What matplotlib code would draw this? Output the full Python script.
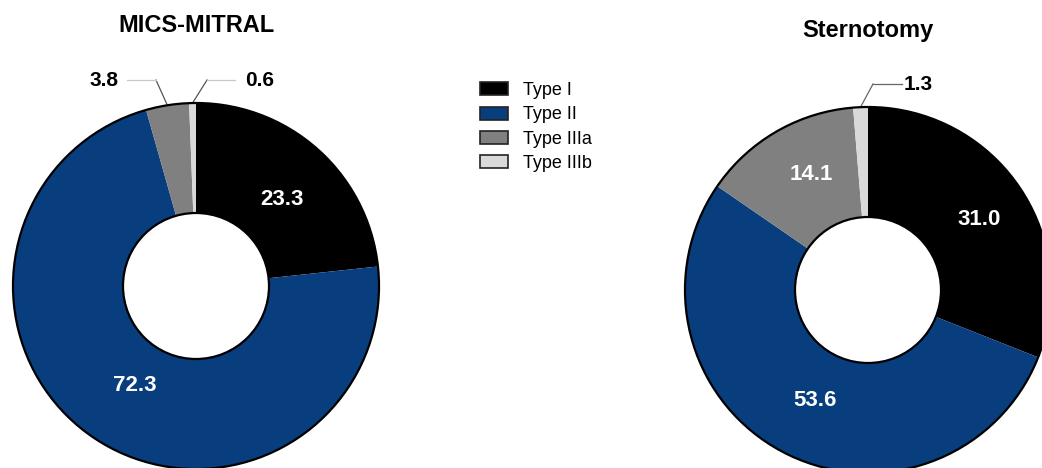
import numpy as np
import matplotlib
matplotlib.use("Agg")
import matplotlib.pyplot as plt
from matplotlib.patches import Circle

plt.rcParams["font.family"] = ["Liberation Sans", "DejaVu Sans"]

# Data
categories = ["Type I", "Type II", "Type IIIa", "Type IIIb"]
mics_values = [23.3, 72.3, 3.8, 0.6]
sternotomy_values = [31.0, 53.6, 14.1, 1.3]
group_titles = ["MICS-MITRAL", "Sternotomy"]

colors = ["#000000", "#083E7E", "#808080", "#D9D9D9"]

W, H = 1042, 468
fig = plt.figure(figsize=(W / 100, H / 100), dpi=100)
ax = fig.add_axes([0, 0, 1, 1])

R_OUT = 183
R_IN = 73
centers = [(196, H - 286), (868, H - 290)]
title_y = [H - 25, H - 30]

# inside labels: (fraction of outer radius, angular nudge in degrees)
inside_pos = {
    0: [(0.667, -2.8), (0.636, 2.3), None, None],
    1: [(0.72, -1.6), (0.667, 2.4), (0.70, -4.0), None],
}
# thin slices: leader line elbow / end offsets from the centre, line colours, text gap
outside_spec = {
    (0, 2): dict(elbow=(-40, 206), end=(-69, 206), ha="right", gap=9,
                 diag="#555555", horiz="#c8c8c8"),
    (0, 3): dict(elbow=(11, 206), end=(39, 206), ha="left", gap=10,
                 diag="#555555", horiz="#c8c8c8"),
    (1, 3): dict(elbow=(5, 206), end=(34, 206), ha="left", gap=2,
                 diag="#666666", horiz="#666666"),
}

for g, values in enumerate([mics_values, sternotomy_values]):
    cx, cy = centers[g]
    wedges, _ = ax.pie(values, colors=colors, startangle=90, counterclock=False,
                       center=(cx, cy), radius=R_OUT,
                       wedgeprops=dict(width=R_OUT - R_IN, edgecolor="none",
                                       linewidth=0))
    ax.add_patch(Circle((cx, cy), R_OUT, fill=False, edgecolor="black", lw=1.6,
                        zorder=3))
    ax.add_patch(Circle((cx, cy), R_IN, facecolor="white", edgecolor="black",
                        lw=1.6, zorder=3))
    ax.text(cx, title_y[g], group_titles[g], ha="center", va="center",
            fontsize=17, fontweight="bold")

    for i, (w, v) in enumerate(zip(wedges, values)):
        mid_deg = (w.theta1 + w.theta2) / 2
        pos = inside_pos[g][i]
        if pos is not None:
            frac, nudge = pos
            a = np.deg2rad(mid_deg + nudge)
            ax.text(cx + frac * R_OUT * np.cos(a), cy + frac * R_OUT * np.sin(a),
                    f"{v:.1f}", ha="center", va="center", color="white",
                    fontsize=16, fontweight="bold")
        else:
            spec = outside_spec[(g, i)]
            a = np.deg2rad(mid_deg)
            sx, sy = cx + R_OUT * np.cos(a), cy + R_OUT * np.sin(a)
            ex, ey = cx + spec["elbow"][0], cy + spec["elbow"][1]
            tx = cx + spec["end"][0]
            ax.plot([sx, ex], [sy, ey], color=spec["diag"], lw=0.9, zorder=2)
            ax.plot([ex, tx], [ey, ey], color=spec["horiz"], lw=0.9, zorder=2)
            off = -spec["gap"] if spec["ha"] == "right" else spec["gap"]
            ax.text(tx + off, ey, f"{v:.1f}", ha=spec["ha"], va="center",
                    fontsize=15, fontweight="bold")

handles = [plt.Rectangle((0, 0), 1, 1, facecolor=c, edgecolor="#222222", lw=1.2)
           for c in colors]
ax.legend(handles, categories, loc="upper left", bbox_to_anchor=(473 / W, 1 - 75 / H),
          bbox_transform=fig.transFigure, frameon=False, fontsize=13,
          handlelength=1.55, handleheight=0.72, handletextpad=0.8,
          labelspacing=0.4, borderaxespad=0)

ax.set_xlim(0, W)
ax.set_ylim(0, H)
ax.set_aspect("auto")
ax.axis("off")

fig.savefig("out.png", dpi=100)
